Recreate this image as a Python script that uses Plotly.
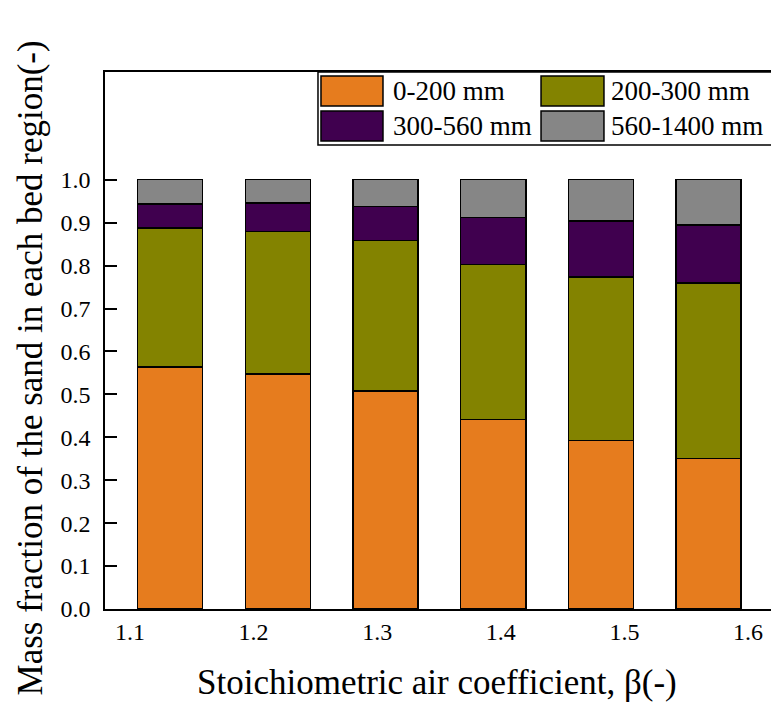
import plotly.graph_objects as go

# ---- data ----
beta = [1.1, 1.2, 1.3, 1.4, 1.5, 1.6]
tick_labels = ["1.1", "1.2", "1.3", "1.4", "1.5", "1.6"]
series_names = ["0-200 mm", "200-300 mm", "300-560 mm", "560-1400 mm"]
frac_0_200 = [0.564, 0.547, 0.508, 0.442, 0.392, 0.351]
frac_200_300 = [0.324, 0.333, 0.350, 0.361, 0.381, 0.409]
frac_300_560 = [0.056, 0.066, 0.080, 0.109, 0.131, 0.135]
frac_560_1400 = [0.056, 0.054, 0.062, 0.088, 0.096, 0.105]
y_ticks = [0.0, 0.1, 0.2, 0.3, 0.4, 0.5, 0.6, 0.7, 0.8, 0.9, 1.0]

colors = ["#E67C1E", "#838300", "#40004F", "#868686"]
FONT = "Liberation Serif"

fig = go.Figure()
for name, vals, col in zip(series_names,
                           [frac_0_200, frac_200_300, frac_300_560, frac_560_1400],
                           colors):
    fig.add_trace(go.Bar(x=beta, y=vals, name=name, width=0.0604,
                         marker=dict(color=col, line=dict(color="black", width=1.5)),
                         showlegend=False))

# tick label positions (layout: labels sit offset from bars as in the original)
tick_pos = [1.0627 + 0.11477 * j for j in range(len(tick_labels))]

fig.update_layout(
    width=771, height=704,
    margin=dict(l=105, r=0, t=72, b=95),
    paper_bgcolor="white", plot_bgcolor="white",
    barmode="stack",
    font=dict(family=FONT, color="black"),
    xaxis=dict(range=[1.0395, 1.6579], showline=True, mirror=True,
               linecolor="black", linewidth=1.5, showgrid=False, zeroline=False,
               ticks="", tickvals=tick_pos, ticktext=tick_labels,
               tickfont=dict(size=24, family=FONT), ticklabelstandoff=0),
    yaxis=dict(range=[0, 1.251], showline=True, linecolor="black", linewidth=1.5,
               showgrid=False, zeroline=False, ticks="inside", ticklen=12,
               tickwidth=1.5, tickcolor="black", tickvals=y_ticks,
               ticktext=[f"{v:.1f}" for v in y_ticks],
               tickfont=dict(size=24, family=FONT), ticklabelstandoff=8),
)

# axis titles
fig.add_annotation(text="Stoichiometric air coefficient, β(-)", xref="paper", yref="paper",
                   x=0.499, y=-0.137, xanchor="center", yanchor="middle",
                   showarrow=False, font=dict(size=35, family=FONT))
fig.add_annotation(text="Mass fraction of the sand in each bed region(-)", xref="paper",
                   yref="paper", x=-0.1126, y=0.448, xanchor="center", yanchor="middle",
                   textangle=-90, showarrow=False, font=dict(size=35, family=FONT))

# custom legend box
fig.add_shape(type="rect", xref="paper", yref="paper", x0=0.3198, x1=1.006, y0=0.864, y1=1.0,
              line=dict(color="black", width=1.5), fillcolor="white", layer="above")
sw_x = [(0.3243, 0.4174), (0.6547, 0.7492), (0.3243, 0.4174), (0.6547, 0.7492)]
sw_y = [(0.9367, 0.9926), (0.9367, 0.9926), (0.8715, 0.9274), (0.8715, 0.9274)]
txt_x = [0.4294, 0.7568, 0.4294, 0.7568]
for i, name in enumerate(series_names):
    fig.add_shape(type="rect", xref="paper", yref="paper",
                  x0=sw_x[i][0], x1=sw_x[i][1], y0=sw_y[i][0], y1=sw_y[i][1],
                  line=dict(color="black", width=1.5), fillcolor=colors[i], layer="above")
    fig.add_annotation(text=name, xref="paper", yref="paper", x=txt_x[i],
                       y=(sw_y[i][0] + sw_y[i][1]) / 2, xanchor="left", yanchor="middle",
                       showarrow=False, font=dict(size=27, family=FONT))

fig.write_html("out.html")
